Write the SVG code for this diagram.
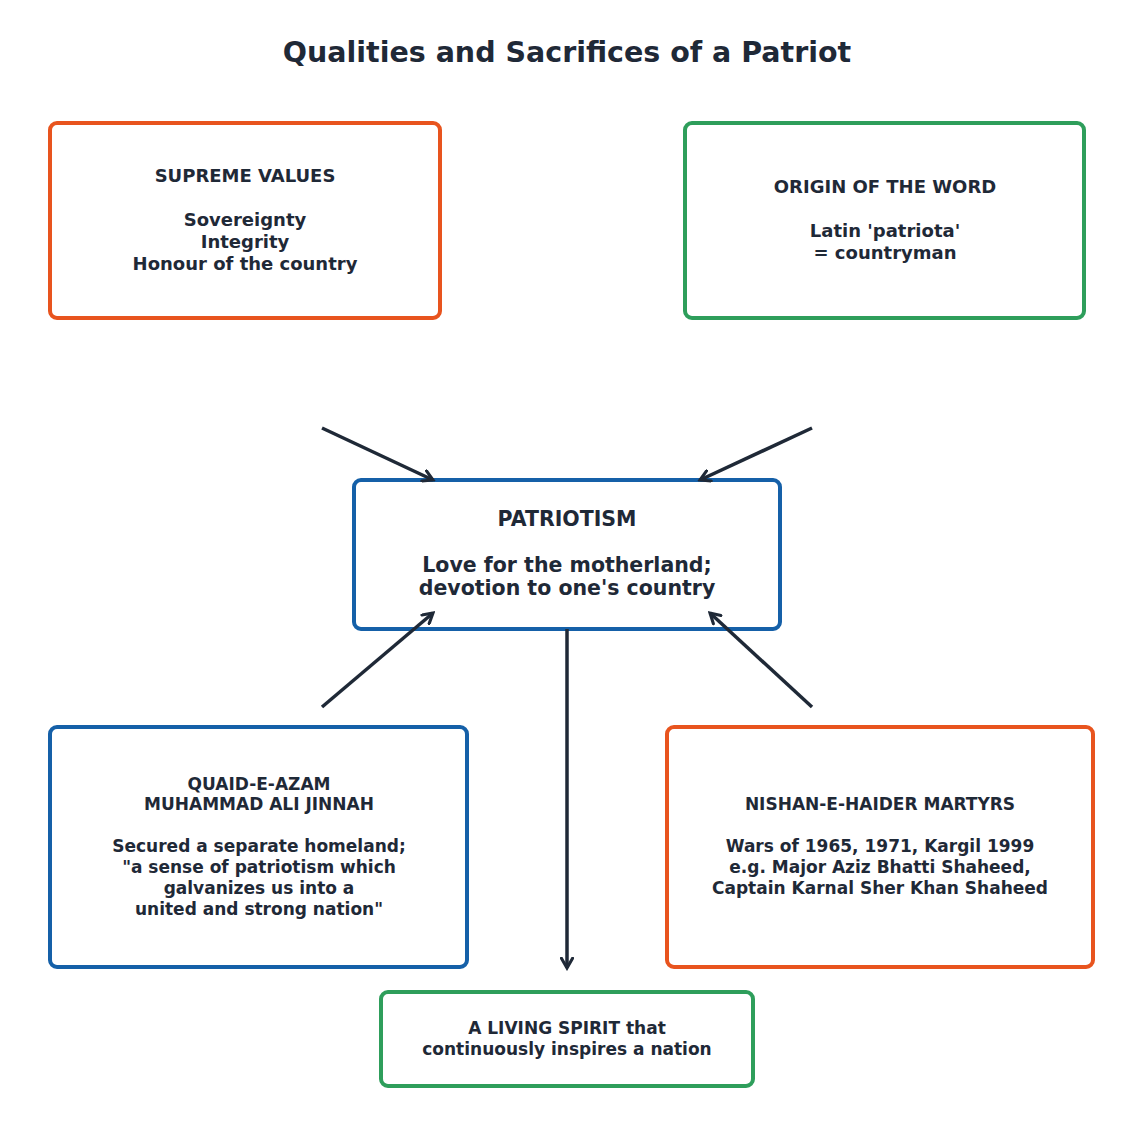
<svg xmlns="http://www.w3.org/2000/svg" width="1134" height="1127" viewBox="0 0 1134 1127">
<style>
.t{font-family:"DejaVu Sans",sans-serif;font-weight:bold;fill:#1f2937;text-anchor:middle}
.b{fill:#fff;stroke-width:4}
.o{stroke:#e8541e}.g{stroke:#2e9e5b}.u{stroke:#1560a8}
.c{stroke:#1f2937;stroke-width:3.5;fill:none;marker-end:url(#a)}
</style>
<defs><marker id="a" viewBox="0 0 10 10" refX="8" refY="5" markerWidth="4" markerHeight="4" orient="auto"><path d="M1,1 L8,5 L1,9" fill="none" stroke="#1f2937" stroke-width="2.2" stroke-linecap="round"/></marker></defs>
<rect width="1134" height="1127" fill="#fff"/>
<text class="t" x="567" y="62" font-size="28.5">Qualities and Sacrifices of a Patriot</text>
<g id="values"><rect class="b o" x="50" y="123" width="390" height="195" rx="7"/>
<text class="t" font-size="18"><tspan x="245" y="182">SUPREME VALUES</tspan><tspan x="245" y="226">Sovereignty</tspan><tspan x="245" y="248">Integrity</tspan><tspan x="245" y="270">Honour of the country</tspan></text></g>
<g id="origin"><rect class="b g" x="685" y="123" width="399" height="195" rx="7"/>
<text class="t" font-size="18"><tspan x="885" y="193">ORIGIN OF THE WORD</tspan><tspan x="885" y="237">Latin 'patriota'</tspan><tspan x="885" y="259">= countryman</tspan></text></g>
<g id="patriotism"><rect class="b u" x="354" y="480" width="426" height="149" rx="7"/>
<text class="t" font-size="20.5"><tspan x="567" y="526">PATRIOTISM</tspan><tspan x="567" y="572">Love for the motherland;</tspan><tspan x="567" y="595">devotion to one's country</tspan></text></g>
<g id="jinnah"><rect class="b u" x="50" y="727" width="417" height="240" rx="7"/>
<text class="t" font-size="17"><tspan x="259" y="790">QUAID-E-AZAM</tspan><tspan x="259" y="810">MUHAMMAD ALI JINNAH</tspan><tspan x="259" y="852">Secured a separate homeland;</tspan><tspan x="259" y="873">"a sense of patriotism which</tspan><tspan x="259" y="894">galvanizes us into a</tspan><tspan x="259" y="915">united and strong nation"</tspan></text></g>
<g id="martyrs"><rect class="b o" x="667" y="727" width="426" height="240" rx="7"/>
<text class="t" font-size="17"><tspan x="880" y="810">NISHAN-E-HAIDER MARTYRS</tspan><tspan x="880" y="852">Wars of 1965, 1971, Kargil 1999</tspan><tspan x="880" y="873">e.g. Major Aziz Bhatti Shaheed,</tspan><tspan x="880" y="894">Captain Karnal Sher Khan Shaheed</tspan></text></g>
<g id="spirit"><rect class="b g" x="381" y="992" width="372" height="94" rx="7"/>
<text class="t" font-size="17"><tspan x="567" y="1034">A LIVING SPIRIT that</tspan><tspan x="567" y="1055">continuously inspires a nation</tspan></text></g>
<g id="connectors">
<path class="c" d="M322,428 L433,480"/>
<path class="c" d="M812,428 L700,480"/>
<path class="c" d="M322,707 L433,613"/>
<path class="c" d="M812,707 L710,613"/>
<path class="c" d="M567,629 L567,968"/>
</g>
</svg>
